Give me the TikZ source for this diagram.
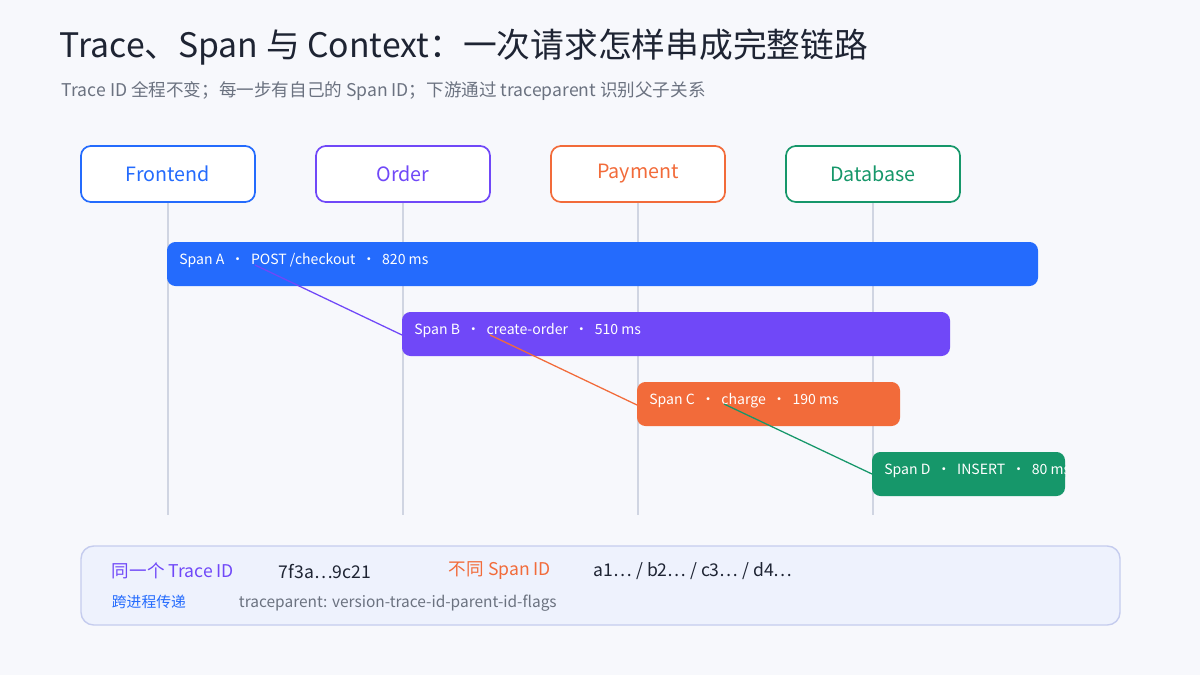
\documentclass[tikz,border=0pt]{standalone}
\usepackage{fontspec}
\setmainfont{Noto Sans CJK SC}
\usetikzlibrary{positioning}
\definecolor{cBg}{HTML}{F7F8FC}
\definecolor{cFront}{HTML}{246BFD}
\definecolor{cOrder}{HTML}{7048F8}
\definecolor{cPay}{HTML}{F26B3A}
\definecolor{cDb}{HTML}{16976A}
\definecolor{cLife}{HTML}{D0D5E2}
\definecolor{cTitle}{HTML}{1E2433}
\definecolor{cSub}{HTML}{6B7280}
\definecolor{cNote}{HTML}{EEF2FD}
\definecolor{cNoteLine}{HTML}{C5CCEE}
\tikzset{
  svc/.style={draw=#1,text=#1,fill=white,line width=1.2pt,rounded corners=7pt,
    minimum width=4.35cm,minimum height=1.4cm,font=\fontsize{14}{16}\selectfont},
  span/.style={fill=#1,draw=none,rounded corners=6pt,text=white,anchor=north west,
    inner sep=0pt,font=\fontsize{10}{12}\selectfont},
  link/.style={draw=#1,line width=0.9pt},
  life/.style={draw=cLife,line width=1pt}
}
\begin{document}
\begin{tikzpicture}[x=0.025cm,y=-0.025cm]
\fill[cBg] (0,0) rectangle (1200,675);
\useasboundingbox (0,0) rectangle (1200,675);
% titles
\node[anchor=west,text=cTitle,font=\fontsize{24}{28}\selectfont] (title) at (55,47) {Trace、Span 与 Context：一次请求怎样串成完整链路};
\node[anchor=west,text=cSub,font=\fontsize{12.5}{15}\selectfont] (sub) at (57,91) {Trace ID 全程不变；每一步有自己的 Span ID；下游通过 traceparent 识别父子关系};
% services
\node[svc=cFront] (fe) at (168,174) {Frontend};
\node[svc=cOrder] (ord) at (403,174) {Order};
\node[svc=cPay] (pay) at (638,174) {Payment};
\node[svc=cDb] (db) at (873,174) {Database};
\foreach \s in {fe,ord,pay,db}
  \path[life] (\s.south) -- (\s.south |- 0,515);
% spans
\path[span=cFront] (167,242) rectangle (1038,286);
\path[span=cOrder] (402,312) rectangle (950,356);
\path[span=cPay] (637,382) rectangle (900,426);
\path[span=cDb] (872,452) rectangle (1065,496);
\node[span=cFront,anchor=west] (spA) at (179,261) {Span A \ · \ POST /checkout \ · \ 820 ms};
\node[span=cOrder,anchor=west] (spB) at (414,331) {Span B \ · \ create-order \ · \ 510 ms};
\node[span=cPay,anchor=west] (spC) at (649,401) {Span C \ · \ charge \ · \ 190 ms};
\begin{scope}
\clip (872,452) rectangle (1065,496);
\node[span=cDb,anchor=west] (spD) at (884,471) {Span D \ · \ INSERT \ · \ 80 ms};
\end{scope}
\coordinate (aOut) at (255,265);
\coordinate (bIn) at (402,335);
\coordinate (bOut) at (490,335);
\coordinate (cIn) at (637,405);
\coordinate (cOut) at (724,404);
\coordinate (dIn) at (872,474);
\draw[link=cOrder] (aOut) -- (bIn);
\draw[link=cPay] (bOut) -- (cIn);
\draw[link=cDb] (cOut) -- (dIn);
% note box
\draw[fill=cNote,draw=cNoteLine,line width=1pt,rounded corners=9pt] (81,546) rectangle (1120,625);
\node[anchor=west,text=cOrder,font=\fontsize{12.5}{15}\selectfont] (n1) at (107,571) {同一个 Trace ID};
\node[anchor=west,text=cTitle,font=\fontsize{12.5}{15}\selectfont] (n2) at (274,571) {7f3a…9c21};
\node[anchor=west,text=cPay,font=\fontsize{12.5}{15}\selectfont] (n3) at (444,571) {不同 Span ID};
\node[anchor=west,text=cTitle,font=\fontsize{12.5}{15}\selectfont] (n4) at (589,571) {a1… / b2… / c3… / d4…};
\node[anchor=west,text=cFront,font=\fontsize{10.5}{13}\selectfont] (n5) at (107,602) {跨进程传递};
\node[anchor=west,text=cSub,font=\fontsize{11}{13}\selectfont] (n6) at (234,603) {traceparent: version-trace-id-parent-id-flags};
\end{tikzpicture}
\end{document}
